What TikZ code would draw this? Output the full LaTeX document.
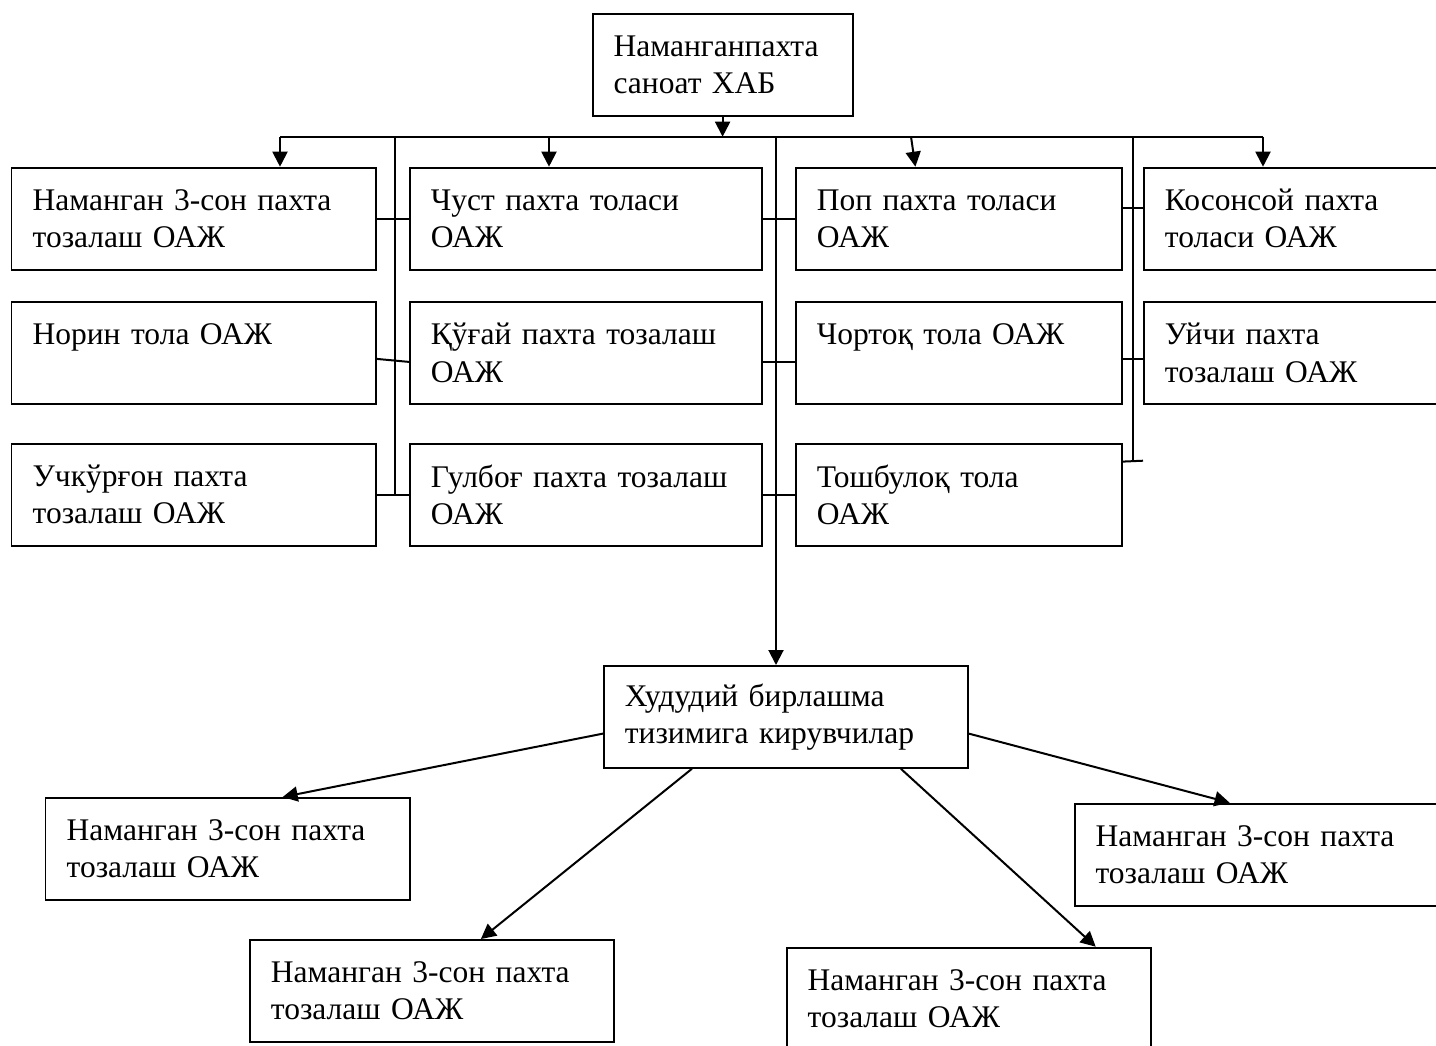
\documentclass[tikz,border=0pt]{standalone}
\usepackage{fontspec}
\setmainfont{Liberation Serif}
\usepackage{tikz}
\usetikzlibrary{arrows.meta,positioning}

\begin{document}
\begin{tikzpicture}[
  x=1pt, y=-1pt,
  box/.style={draw, line width=1.8pt, anchor=north west, minimum height=102pt,
    inner xsep=21pt, align=left, font=\fontsize{31.5}{37.4}\selectfont},
  link/.style={line width=2pt},
  arrow/.style={-{Triangle[length=15pt, width=15pt]}, line width=2pt}
]
\useasboundingbox (0,0) rectangle (1436,1045);

\node[box, minimum width=260pt, text width=218pt] (hab) at (591.7,12.7) {Наманганпахта\\саноат ХАБ};

\node[box, minimum width=364.5pt, text width=322pt] (n3) at (10.5,166.7) {Наманган 3-сон пахта\\тозалаш ОАЖ};
\node[box, minimum width=364.5pt, text width=322pt] (norin) at (10.5,301) {Норин тола ОАЖ\\ \mbox{}};
\node[box, minimum width=364.5pt, text width=322pt] (uchk) at (10.5,442.7) {Учкўрғон пахта\\тозалаш ОАЖ};
\node[box, minimum width=352pt, text width=310pt] (chust) at (409,166.7) {Чуст пахта толаси\\ОАЖ};
\node[box, minimum width=352pt, text width=310pt] (kugai) at (409,301) {Қўғай пахта тозалаш\\ОАЖ};
\node[box, minimum width=352pt, text width=310pt] (gulb) at (409,442.7) {Гулбоғ пахта тозалаш\\ОАЖ};
\node[box, minimum width=326pt, text width=284pt] (pop) at (795,166.7) {Поп пахта толаси\\ОАЖ};
\node[box, minimum width=326pt, text width=284pt] (chort) at (795,301) {Чортоқ тола ОАЖ\\ \mbox{}};
\node[box, minimum width=326pt, text width=284pt] (tosh) at (795,442.7) {Тошбулоқ тола\\ОАЖ};
\node[box, minimum width=310pt, text width=268pt] (koson) at (1143,166.7) {Косонсой пахта\\толаси ОАЖ};
\node[box, minimum width=310pt, text width=268pt] (uychi) at (1143,301) {Уйчи пахта\\тозалаш ОАЖ};

\node[box, minimum width=364pt, text width=322pt] (hud) at (603,665) {Худудий бирлашма\\тизимига кирувчилар};
\node[box, minimum width=364.5pt, text width=322pt] (m1) at (44.5,797) {Наманган 3-сон пахта\\тозалаш ОАЖ};
\node[box, minimum width=364pt, text width=322pt] (m2) at (249,939) {Наманган 3-сон пахта\\тозалаш ОАЖ};
\node[box, minimum width=364pt, text width=322pt] (m3) at (785.8,946.7) {Наманган 3-сон пахта\\тозалаш ОАЖ};
\node[box, minimum width=370pt, text width=328pt] (m4) at (1073.7,802.7) {Наманган 3-сон пахта\\тозалаш ОАЖ};

% bus under the top box
\coordinate (d1) at (280,136.7);
\coordinate (d2) at (549,136.7);
\coordinate (d3) at (911,136.7);
\coordinate (d4) at (1263,136.7);
\coordinate (v1) at (395,136.7);
\coordinate (v2) at (776,136.7);
\coordinate (v3) at (1133,136.7);
\coordinate (v3end) at (1133,460.7);

\draw[arrow] (hab.south) -- (hab.south |- d1);
\draw[link] (d1) -- (d4);
\draw[arrow] (d1) -- (d1 |- n3.north);
\draw[arrow] (d2) -- (d2 |- chust.north);
\draw[arrow] (d3) -- ([xshift=-43.5pt]pop.north);
\draw[arrow] (d4) -- (d4 |- koson.north);

\draw[link] (v1) -- (v1 |- uchk.east);
\draw[arrow] (v2) -- (v2 |- hud.north);
\draw[link] (v3) -- (v3end);

\draw[link] (n3.east) -- (chust.west);
\draw[link] ([yshift=-6pt]norin.east) -- ([yshift=-9pt]kugai.west);
\draw[link] (uchk.east) -- (gulb.west);
\draw[link] (chust.east) -- (pop.west);
\draw[link] ([yshift=-9pt]kugai.east) -- ([yshift=-9pt]chort.west);
\draw[link] (gulb.east) -- (tosh.west);
\draw[link] ([yshift=11pt]pop.east) -- ([yshift=11pt]koson.west);
\draw[link] ([yshift=-6pt]chort.east) -- ([yshift=-6pt]uychi.west);
\draw[link] ([yshift=33pt]tosh.east) -- (uychi.west |- v3end);

% lower group
\draw[arrow] ([yshift=-16.7pt]hud.west) -- ([xshift=55pt]m1.north);
\draw[arrow] ([xshift=-94pt]hud.south) -- ([xshift=49pt]m2.north);
\draw[arrow] ([xshift=115pt]hud.south) -- ([xshift=127pt]m3.north);
\draw[arrow] ([yshift=-16.7pt]hud.east) -- ([xshift=-30pt]m4.north);
\end{tikzpicture}
\end{document}
